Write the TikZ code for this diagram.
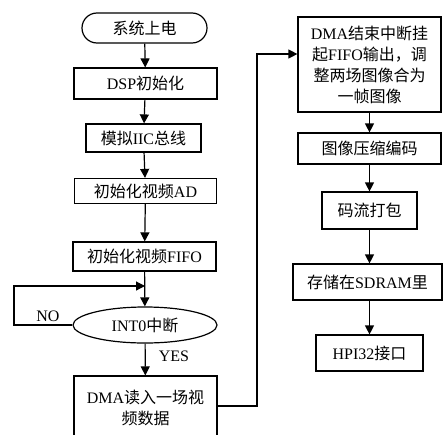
\documentclass[tikz,border=0pt]{standalone}
\usepackage{fontspec}
\setmainfont{Liberation Serif}
\newfontfamily\cjk{Noto Sans CJK SC}
\newcommand{\zh}[1]{{\cjk #1}}
\usetikzlibrary{arrows.meta,shapes.geometric,calc}
\begin{document}
\begin{tikzpicture}[x=1pt,y=-1pt,
  box/.style={draw,line width=1.2pt,rectangle,inner sep=0pt,align=center,font=\fontsize{16}{21}\selectfont},
  arr/.style={line width=1.2pt,-{Triangle[length=9pt,width=9pt]}},
  lbl/.style={font=\fontsize{16}{18}\selectfont,inner sep=0pt}]
\useasboundingbox (0,0) rectangle (443,434);
\begin{scope}
\clip (0,0) rectangle (443,434);
% left column
\node[box,rounded corners=15pt,minimum width=125pt,minimum height=30pt] (start) at (144.5,28) {\zh{系统上电}};
\node[box,minimum width=143pt,minimum height=31pt] (dsp) at (145.5,83.5) {DSP\zh{初始化}};
\node[box,minimum width=115pt,minimum height=28pt] (iic) at (143.5,138) {\zh{模拟}IIC\zh{总线}};
\node[box,minimum width=142pt,minimum height=25pt] (ad) at (145.5,191) {\zh{初始化视频}AD};
\node[box,minimum width=143pt,minimum height=29pt] (fifo) at (144.5,256.5) {\zh{初始化视频}FIFO};
\node[box,ellipse,minimum width=144pt,minimum height=36pt] (int) at (145,325) {INT0\zh{中断}};
\node[box,minimum width=143pt,minimum height=64pt] (dma) at (145.5,408) {DMA\zh{读入一场视}\\\zh{频数据}};
% right column
\node[box,minimum width=143pt,minimum height=95pt] (r1) at (369.5,64.5) {DMA\zh{结束中断挂}\\\zh{起}FIFO\zh{输出，调}\\\zh{整两场图像合为}\\\zh{一帧图像}};
\node[box,minimum width=143pt,minimum height=31pt] (r2) at (369.5,148.5) {\zh{图像压缩编码}};
\node[box,minimum width=95pt,minimum height=37pt] (r3) at (369.5,210.5) {\zh{码流打包}};
\node[box,minimum width=149pt,minimum height=36pt] (r4) at (367.5,282) {\zh{存储在}SDRAM\zh{里}};
\node[box,minimum width=107pt,minimum height=36pt] (r5) at (369.5,353) {HPI32\zh{接口}};
% connectors
\draw[arr] (start) -- (dsp);
\draw[arr] (dsp) -- (iic);
\draw[arr] (iic) -- (ad);
\draw[arr] (ad) -- (fifo);
\draw[arr] (fifo) -- (int);
\draw[arr] (int) -- (dma);
\coordinate (m) at (145,286);
\coordinate (lp) at (14,286);
\draw[arr] (int.west) -| (lp) -- (m);
\node[lbl] (no) at (48,316) {NO};
\node[lbl] (yes) at (174,356) {YES};
\coordinate (turn) at (257,54);
\draw[arr] ($(dma.east)+(0,-2)$) -| (turn) -- (r1.west |- turn);
\draw[arr] (r1) -- (r2);
\draw[arr] (r2) -- (r3);
\draw[arr] (r3.south) -- (r4.north -| r3.south);
\draw[arr] (r4.south -| r5.north) -- (r5);
\end{scope}
\end{tikzpicture}
\end{document}
